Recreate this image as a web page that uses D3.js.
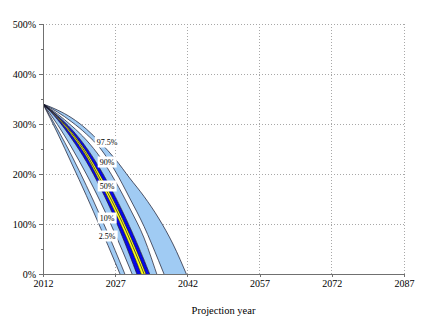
<!DOCTYPE html>
<html><head><meta charset="utf-8">
<script src="https://cdn.jsdelivr.net/npm/d3@7"></script>
<style>
html,body{margin:0;padding:0;background:#fff;}
svg{display:block;}
text{font-family:"Liberation Serif","Times New Roman",serif;}
</style></head>
<body>
<svg id="chart" width="432" height="336"></svg>
<script>
// ---- data ----
const years = [2012, 2015, 2018, 2021, 2024, 2027, 2030, 2033, 2036, 2039, 2042];
const p025 = [340, 282, 220, 157, 91, 23, -47, -120, -190, -260, -330];
const p05  = [340, 290, 236, 177, 114, 47, -24, -100, -175, -250, -325];
const p10  = [340, 299, 252, 200, 143, 80, 12, -60, -135, -210, -285];
const p25  = [340, 309, 270, 225, 171, 109, 38, -39, -115, -190, -265];
const p40  = [340, 312, 277, 235, 181, 123, 58, -15, -90, -165, -240];
const p50  = [340, 314, 281, 240, 188, 133, 70, 0, -75, -150, -225];
const p60  = [340, 315, 284, 245, 196, 141, 79, 10, -70, -145, -220];
const p75  = [340, 317, 289, 253, 208, 155, 95, 28, -45, -120, -195];
const p90  = [340, 320, 296, 268, 232, 186, 132, 72, -10, -90, -170];
const p95  = [340, 324, 304, 280, 250, 206, 152, 95, 27, -45, -120];
const p975 = [340, 328, 312, 290, 262, 230, 192, 155, 112, 60, -5];

const labelNames  = ["97.5%", "90%", "50%", "10%", "2.5%"];
const labelValues = [264, 224, 176, 112, 76];
const labelYear = 2025.3;

const yTicks = [0, 100, 200, 300, 400, 500];
const yMinorTicks = [50, 150, 250, 350, 450];
const xTicks = [2012, 2027, 2042, 2057, 2072, 2087];
const xTitle = "Projection year";

// ---- layout ----
const svg = d3.select("#chart");
const x = d3.scaleLinear().domain([2012, 2087]).range([43, 404]);
const y = d3.scaleLinear().domain([0, 500]).range([274, 24]);

const LB = "#a0cbf3", BLUE = "#0808e8", YEL = "#ffff1a", WHITE = "#ffffff";

// gridlines
const grid = svg.append("g");
grid.selectAll("line.h").data(yTicks.filter(d => d > 0)).join("line")
  .attr("x1", x(2012)).attr("x2", x(2087))
  .attr("y1", d => y(d)).attr("y2", d => y(d))
  .attr("stroke", "#a8a8a8").attr("stroke-width", 1).attr("stroke-dasharray", "1,2")
  .attr("shape-rendering", "crispEdges");
grid.selectAll("line.v").data(xTicks.filter(d => d > 2012)).join("line")
  .attr("x1", d => x(d)).attr("x2", d => x(d))
  .attr("y1", y(0)).attr("y2", y(500))
  .attr("stroke", "#a8a8a8").attr("stroke-width", 1).attr("stroke-dasharray", "1,2")
  .attr("shape-rendering", "crispEdges");

// clip
svg.append("clipPath").attr("id", "plot").append("rect")
  .attr("x", x(2012)).attr("y", y(500)).attr("width", x(2087) - x(2012)).attr("height", y(0) - y(500));

const fan = svg.append("g").attr("clip-path", "url(#plot)");
const curve = d3.curveMonotoneX;

const bands = [
  [p025, p05, LB], [p05, p10, WHITE], [p10, p25, LB], [p25, p40, BLUE],
  [p40, p60, YEL], [p60, p75, BLUE], [p75, p90, LB], [p90, p95, WHITE], [p95, p975, LB]
];
const area = d3.area().curve(curve)
  .x(d => x(d.t)).y0(d => y(d.lo)).y1(d => y(d.hi));
bands.forEach(([lo, hi, col]) => {
  const pts = years.map((t, i) => ({ t, lo: lo[i], hi: hi[i] }));
  fan.append("path").datum(pts).attr("d", area).attr("fill", col);
});

const line = d3.line().curve(curve).x(d => x(d.t)).y(d => y(d.v));
[p025, p05, p10, p25, p40, p50, p60, p75, p90, p95, p975].forEach(s => {
  const pts = years.map((t, i) => ({ t, v: s[i] }));
  fan.append("path").datum(pts).attr("d", line)
    .attr("fill", "none").attr("stroke", "#141428").attr("stroke-width", 0.7);
});

// percentile labels with white boxes
const lab = svg.append("g");
labelNames.forEach((name, i) => {
  const g = lab.append("g");
  const t = g.append("text")
    .attr("x", x(labelYear)).attr("y", y(labelValues[i]))
    .attr("text-anchor", "middle").attr("dominant-baseline", "central")
    .attr("font-size", 8).attr("fill", "#000").text(name);
  const bb = t.node().getBBox();
  g.insert("rect", "text")
    .attr("x", bb.x - 2).attr("y", bb.y - 1)
    .attr("width", bb.width + 4).attr("height", bb.height + 2)
    .attr("fill", "#fff");
});

// axes
const axisCol = "#707070";
const yAxis = svg.append("g").attr("transform", `translate(${x(2012)},0)`)
  .call(d3.axisLeft(y).tickValues(yTicks).tickFormat(d => d + "%").tickSize(4).tickPadding(3));
const yMinor = svg.append("g").attr("transform", `translate(${x(2012)},0)`)
  .call(d3.axisLeft(y).tickValues(yMinorTicks).tickFormat("").tickSize(2));
yMinor.select(".domain").remove();
const xAxis = svg.append("g").attr("transform", `translate(0,${y(0)})`)
  .call(d3.axisBottom(x).tickValues(xTicks).tickFormat(d3.format("d")).tickSize(3).tickPadding(3));
[yAxis, yMinor, xAxis].forEach(a => {
  a.selectAll("path,line").attr("stroke", axisCol).attr("shape-rendering", "crispEdges");
  a.selectAll("text").attr("font-family", "'Liberation Serif','Times New Roman',serif")
    .attr("font-size", 10).attr("fill", "#000");
});

svg.append("text")
  .attr("x", (x(2012) + x(2087)) / 2).attr("y", 314)
  .attr("text-anchor", "middle").attr("font-size", 10.5).attr("fill", "#000")
  .text(xTitle);
</script>
</body></html>
